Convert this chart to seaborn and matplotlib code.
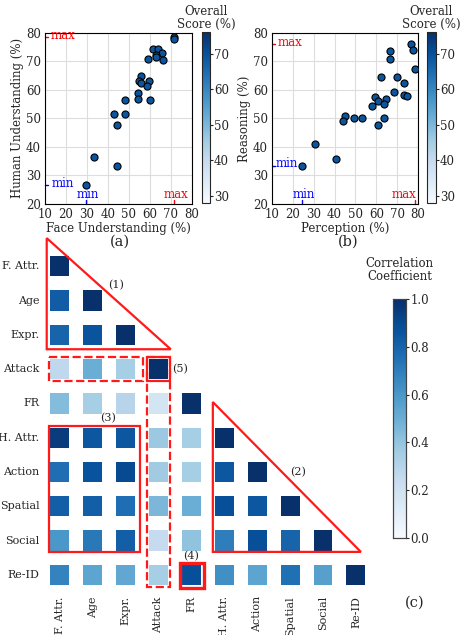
import numpy as np
import pandas as pd
import matplotlib
matplotlib.use('Agg')
import matplotlib.pyplot as plt
import seaborn as sns
from matplotlib import cm, colors
from matplotlib.patches import Polygon, Rectangle

# (a) face vs human understanding
face_und = [71.4, 71.7, 61.5, 63.7, 65.9, 63.1, 63.1, 66.4, 59.1, 55.8, 54.7, 59.7,
            55.8, 58.8, 54.5, 48.0, 54.5, 60.0, 43.1, 48.0, 44.4, 33.3, 44.1, 29.5]
human_und = [78.6, 78.0, 74.5, 74.3, 73.0, 72.2, 71.6, 70.4, 70.7, 64.9, 63.2, 63.2,
             62.3, 61.4, 58.8, 56.3, 56.7, 56.3, 51.5, 51.5, 47.7, 36.6, 33.4, 26.5]

# (b) perception vs reasoning
perception = [76.8, 77.8, 78.7, 66.5, 66.6, 62.2, 70.1, 73.2, 59.6, 60.7, 64.6, 57.9, 63.5,
              68.4, 73.2, 74.6, 63.8, 60.7, 45.0, 43.9, 49.1, 53.3, 30.7, 40.7, 24.2]
reasoning = [76.1, 74.2, 67.4, 73.7, 71.0, 64.6, 64.5, 62.5, 57.6, 56.1, 56.7, 54.4, 54.9,
             59.3, 58.4, 57.9, 50.0, 47.8, 50.9, 49.1, 50.2, 50.2, 41.1, 35.8, 33.4]

score_range = [28, 76]

# (c) correlation matrix (lower triangle)
tasks = ['F. Attr.', 'Age', 'Expr.', 'Attack', 'FR', 'H. Attr.', 'Action', 'Spatial', 'Social', 'Re-ID']
corr_rows = [
    [1.0],
    [0.83, 1.0],
    [0.80, 0.86, 1.0],
    [0.27, 0.50, 0.35, 1.0],
    [0.44, 0.35, 0.30, 0.18, 1.0],
    [0.95, 0.85, 0.85, 0.38, 0.35, 1.0],
    [0.76, 0.87, 0.90, 0.37, 0.35, 0.85, 1.0],
    [0.82, 0.82, 0.76, 0.46, 0.50, 0.88, 0.85, 1.0],
    [0.60, 0.72, 0.82, 0.25, 0.41, 0.70, 0.88, 0.80, 1.0],
    [0.68, 0.54, 0.53, 0.35, 0.88, 0.63, 0.54, 0.75, 0.56, 1.0],
]

sns.set_style('white')
plt.rcParams['font.family'] = ['DejaVu Serif']

n = len(tasks)
corr = np.full((n, n), np.nan)
for i, row in enumerate(corr_rows):
    corr[i, :len(row)] = row
corr = np.where(np.isnan(corr), corr.T, corr)
corr_df = pd.DataFrame(corr, index=tasks, columns=tasks)
mask = np.triu(np.ones((n, n), dtype=bool), k=1)

point_color = '#0b559f'
fig = plt.figure(figsize=(4.62, 6.35), dpi=100)

ax_a = fig.add_axes([0.0974, 0.679, 0.318, 0.269])
cax_a = fig.add_axes([0.437, 0.680, 0.0173, 0.269])
ax_b = fig.add_axes([0.5887, 0.679, 0.316, 0.269])
cax_b = fig.add_axes([0.924, 0.680, 0.0195, 0.269])
ax_c = fig.add_axes([0.094, 0.0677, 0.712, 0.540])
cax_c = fig.add_axes([0.851, 0.1528, 0.028, 0.376])


def scatter_panel(ax, cax, x, y, xlabel, ylabel, marks):
    sns.scatterplot(x=x, y=y, ax=ax, color=point_color, edgecolor='black',
                    s=26, linewidth=0.8, zorder=3)
    ax.set_xlim(10, 80)
    ax.set_ylim(20, 80)
    ax.set_xticks(range(10, 81, 10))
    ax.set_yticks(range(20, 81, 10))
    ax.tick_params(labelsize=8.5, length=2, pad=1)
    ax.grid(True, color='#dddddd', linewidth=0.8)
    ax.set_axisbelow(True)
    ax.set_xlabel(xlabel, fontsize=8.5, labelpad=1)
    ax.set_ylabel(ylabel, fontsize=8.5, labelpad=1)
    for sp in ax.spines.values():
        sp.set_color('black')
        sp.set_linewidth(0.8)

    # min / max markers
    ymax, ymin = max(y), min(y)
    xmax, xmin = max(x), min(x)
    ax.axhline(ymax, xmin=0, xmax=0.02, color='red', lw=1, clip_on=False)
    ax.axhline(ymin, xmin=0, xmax=0.02, color='blue', lw=1, clip_on=False)
    ax.axvline(xmax, ymin=0, ymax=0.02, color='red', lw=1, clip_on=False)
    ax.axvline(xmin, ymin=0, ymax=0.02, color='blue', lw=1, clip_on=False)
    ax.text(marks[0], ymax + 0.6, 'max', color='red', fontsize=8.5, ha='left', va='center')
    ax.text(marks[1], ymin + 0.8, 'min', color='blue', fontsize=8.5, ha='left', va='center')
    ax.text(marks[2][0], 21.0, 'max', color='red', fontsize=8.5, ha=marks[2][1], va='bottom')
    ax.text(marks[3], 21.0, 'min', color='blue', fontsize=8.5, ha='center', va='bottom')

    sm = cm.ScalarMappable(norm=colors.Normalize(*score_range), cmap='Blues')
    cb = fig.colorbar(sm, cax=cax)
    cb.set_ticks([30, 40, 50, 60, 70])
    cb.ax.tick_params(labelsize=8.5, length=2, pad=1)
    cb.ax.set_title('Overall\nScore (%)', fontsize=8.5, linespacing=1.0, pad=3)


scatter_panel(ax_a, cax_a, face_und, human_und, 'Face Understanding (%)',
              'Human Understanding (%)', (12.8, 13.2, (72.5, 'center'), 30.5))
scatter_panel(ax_b, cax_b, perception, reasoning, 'Perception (%)',
              'Reasoning (%)', (12.6, 11.9, (79.2, 'right'), 25.4))

fig.text(120 / 462, 1 - 242 / 635, '(a)', fontsize=10.5, ha='center', va='center')
fig.text(348 / 462, 1 - 242 / 635, '(b)', fontsize=10.5, ha='center', va='center')

# correlation heatmap
sns.heatmap(corr_df, mask=mask, cmap='Blues', vmin=0, vmax=1, linewidths=10,
            linecolor='white', ax=ax_c, cbar_ax=cax_c, square=False)
ax_c.tick_params(labelsize=8, length=2, pad=1)
ax_c.set_xticklabels(tasks, rotation=90)
ax_c.set_yticklabels(tasks, rotation=0)
cax_c.tick_params(labelsize=8.5, length=2, pad=1)
cax_c.set_yticks([0, 0.2, 0.4, 0.6, 0.8, 1.0])
cax_c.set_title('Correlation\nCoefficient', fontsize=8.5, linespacing=1.0, pad=14)
for sp in cax_c.spines.values():
    sp.set_visible(True)
    sp.set_color('#444444')
    sp.set_linewidth(0.8)

red = '#ff1a1a'
ax_c.add_patch(Polygon([(0.1, -0.32), (0.1, 2.92), (3.87, 2.92)], closed=True,
                       fill=False, ec=red, lw=1.6, clip_on=False))
ax_c.add_patch(Polygon([(5.15, 4.46), (5.15, 8.83), (9.65, 8.83)], closed=True,
                       fill=False, ec=red, lw=1.6, clip_on=False))
ax_c.add_patch(Rectangle((0.17, 5.16), 2.76, 3.67, fill=False, ec=red, lw=1.6, clip_on=False))
ax_c.add_patch(Rectangle((0.17, 3.15), 2.86, 0.70, fill=False, ec=red, lw=1.6, ls='--', clip_on=False))
ax_c.add_patch(Rectangle((3.14, 3.15), 0.70, 6.70, fill=False, ec=red, lw=1.6, ls='--', clip_on=False))
ax_c.add_patch(Rectangle((3.14, 3.15), 0.70, 0.70, fill=False, ec=red, lw=1.6, clip_on=False))
ax_c.add_patch(Rectangle((4.15, 9.15), 0.73, 0.73, fill=False, ec=red, lw=2.4, clip_on=False))

ax_c.text(2.2, 1.05, '(1)', fontsize=8, ha='center', va='center')
ax_c.text(7.75, 6.5, '(2)', fontsize=8, ha='center', va='center')
ax_c.text(1.96, 4.93, '(3)', fontsize=8, ha='center', va='center')
ax_c.text(4.5, 8.95, '(4)', fontsize=8, ha='center', va='center')
ax_c.text(4.15, 3.5, '(5)', fontsize=8, ha='center', va='center')

fig.text(415 / 462, 1 - 603 / 635, '(c)', fontsize=10.5, ha='center', va='center')

fig.savefig('out.png', dpi=100)
